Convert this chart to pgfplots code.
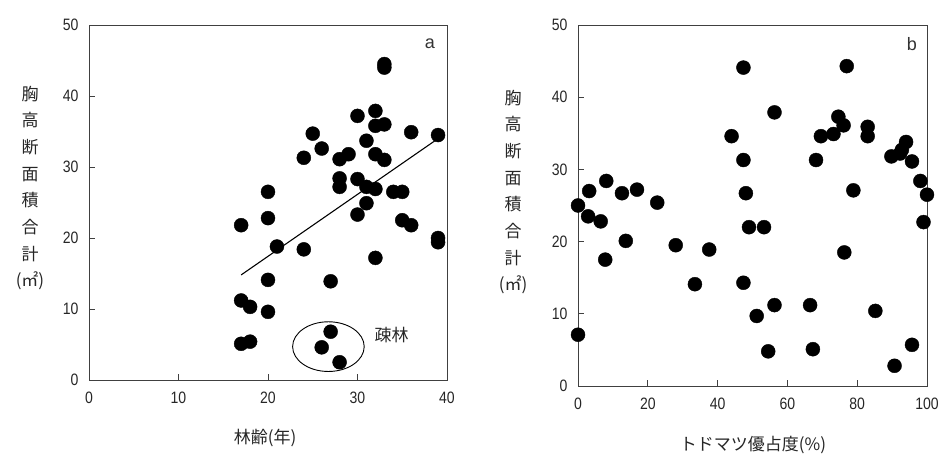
\documentclass[border=0pt]{standalone}
\usepackage{fontspec}
\setmainfont{Liberation Sans}
\newfontfamily\cjk{Noto Sans CJK JP}
\newfontfamily\tickfont{Liberation Sans}[FakeStretch=0.85]
\usepackage{pgfplots}
\pgfplotsset{compat=1.18}

\pgfplotsset{
  panel/.style={
    scale only axis,
    anchor=south west,
    xmin=0, ymin=0, ymax=50,
    clip=false,
    axis line style={black!75, line width=0.9pt},
    tick style={black!75, line width=0.8pt, major tick length=6pt},
    tick align=inside,
    tick pos=left,
    ytick={0,10,20,30,40,50},
    /pgf/number format/assume math mode=true,
    ticklabel style={font=\tickfont\fontsize{16.5}{16.5}\selectfont, text=black!85},
    yticklabel style={xshift=-7pt},
    xticklabel style={yshift=-8pt},
  },
  dots/.style={only marks, mark=*, mark size=7pt, mark options={fill=black, draw=black}},
}

\begin{document}
\begin{tikzpicture}
\useasboundingbox (0,0) rectangle (943pt,455pt);

% Panel a
\begin{axis}[panel, at={(89pt,75pt)}, width=358pt, height=355pt, xmax=40,
  xtick={0,10,20,30,40}]
\addplot[dots] coordinates {
(33,44.5) (33,44.0) (32,37.9) (30,37.2) (32,35.8) (33,36.0) (36,34.9) (39,34.5)
(25,34.7) (31,33.7) (26,32.6) (24,31.3) (28,31.1) (29,31.8) (32,31.8) (33,31.0)
(28,28.4) (28,27.2) (30,28.3) (31,27.2) (32,26.9) (34,26.5) (35,26.5) (31,24.9)
(30,23.3) (35,22.5) (36,21.8) (39,20.0) (39,19.4) (20,26.5) (20,22.8) (17,21.8)
(21,18.8) (24,18.4) (32,17.2) (20,14.1) (27,13.9) (17,11.2) (18,10.3) (20,9.6)
(17,5.1) (18,5.4) (27,6.8) (26,4.6) (28,2.5)
};
\addplot[black, line width=1.1pt] coordinates {(17,14.8) (39,34.0)};
\draw[black, line width=0.9pt] (axis cs:26.75,4.7) ellipse [x radius=4, y radius=3.5];
\node[font=\cjk\fontsize{17}{17}\selectfont, text=black!85] at (axis cs:33.8,6.4) {疎林};
\node[font=\fontsize{18}{18}\selectfont, text=black!80] at (axis cs:38.1,47.3) {a};
\end{axis}

% Panel b
\begin{axis}[panel, at={(578pt,69pt)}, width=349pt, height=361pt, xmax=100,
  xtick={0,20,40,60,80,100}]
\addplot[dots] coordinates {
(0,25.0) (0,7.1) (3.2,27.0) (2.9,23.5) (6.5,22.8) (8.1,28.4) (7.8,17.5) (12.6,26.7)
(13.7,20.1) (16.9,27.2) (22.7,25.4) (28,19.5) (37.6,18.9) (33.5,14.1) (44,34.6)
(47.4,44.1) (47.4,31.3) (48.1,26.7) (49,22.0) (53.3,22.0) (47.4,14.3) (51.2,9.7)
(54.5,4.8) (56.3,11.2) (56.3,37.9) (66.5,11.2) (67.3,5.1) (68.2,31.3) (69.6,34.6)
(73.2,34.9) (74.6,37.3) (76.1,36.1) (77,44.3) (76.3,18.5) (78.9,27.1) (83,35.9)
(83,34.6) (85.2,10.4) (89.8,31.8) (92.3,32.2) (94,33.8) (92.8,32.7) (95.7,31.1)
(98.1,28.4) (100,26.5) (99,22.7) (95.7,5.7) (90.7,2.8)
};
\node[font=\fontsize{18}{18}\selectfont, text=black!80] at (axis cs:95.7,47.3) {b};
\end{axis}

% axis titles
\node[font=\cjk\fontsize{17}{26.7}\selectfont, text=black!85, align=center, inner sep=0] at (30pt,267pt)
  {胸\\高\\断\\面\\積\\合\\計\\(㎡)};
\node[font=\cjk\fontsize{17}{26.7}\selectfont, text=black!85, align=center, inner sep=0] at (513pt,263pt)
  {胸\\高\\断\\面\\積\\合\\計\\(㎡)};
\node[font=\cjk\fontsize{17}{17}\selectfont, text=black!85, inner sep=0] at (265pt,17pt) {林齢(年)};
\node[font=\cjk\fontsize{17}{17}\selectfont, text=black!85, inner sep=0] at (753pt,10pt) {トドマツ優占度(\%)};
\end{tikzpicture}
\end{document}
